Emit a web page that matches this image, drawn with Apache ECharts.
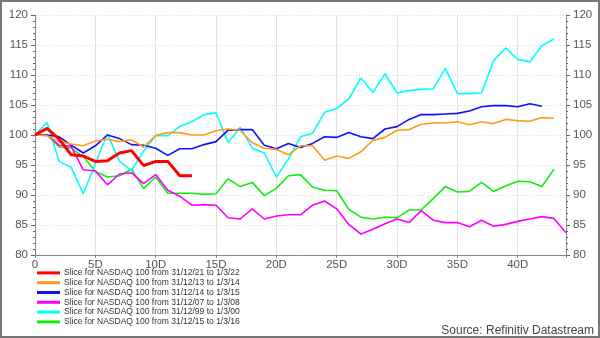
<!DOCTYPE html>
<html><head><meta charset="utf-8">
<script src="https://cdn.jsdelivr.net/npm/echarts@6/dist/echarts.min.js"></script>
<style>
html,body{margin:0;padding:0;background:#fff;}
#frame{width:600px;height:338px;box-sizing:border-box;border:2px solid #777;position:relative;background:#fff;}
#c{position:absolute;left:-2px;top:-2px;width:600px;height:338px;}
</style></head>
<body><div id="frame"><div id="c"></div></div>
<script>
const legendNames = [
  "Slice for NASDAQ 100 from 31/12/21 to 1/3/22",
  "Slice for NASDAQ 100 from 31/12/13 to 1/3/14",
  "Slice for NASDAQ 100 from 31/12/14 to 1/3/15",
  "Slice for NASDAQ 100 from 31/12/07 to 1/3/08",
  "Slice for NASDAQ 100 from 31/12/99 to 1/3/00",
  "Slice for NASDAQ 100 from 31/12/15 to 1/3/16"
];
const seriesColors = ["#ff0000","#ff9a1a","#1010ff","#ff00ff","#00ffff","#10ee10"];
const xTicks = [0,5,10,15,20,25,30,35,40];
const yTicks = [80,85,90,95,100,105,110,115,120];

const red2122 = [100,101.1,99.3,96.7,96.5,95.6,95.7,97.0,97.4,94.9,95.6,95.6,93.2,93.2];
const orange1314 = [100,99.9,98.9,98.5,98.2,99.0,99.3,98.9,99.2,98.0,99.9,100.4,100.4,100.0,100.0,100.7,101.0,100.8,98.7,97.8,97.6,96.7,98.2,98.2,95.8,96.5,96.1,97.2,99.1,99.6,100.8,100.9,101.8,102.0,102.0,102.2,101.7,102.2,101.9,102.6,102.4,102.3,102.9,102.8];
const blue1415 = [100,100,99.7,98.3,97.0,98.2,100.0,99.4,98.4,98.3,97.8,96.6,97.7,97.7,98.4,98.9,100.8,100.9,100.9,98.3,97.7,98.6,97.9,98.6,99.7,99.6,100.4,99.7,99.4,101.0,101.4,102.6,103.4,103.4,103.5,103.6,104.0,104.7,104.9,104.9,104.7,105.2,104.8];
const magenta0708 = [100,100,98.3,98.1,94.2,94.0,91.7,93.5,93.7,91.9,93.4,90.8,89.8,88.3,88.4,88.3,86.2,86.0,87.7,86.0,86.5,86.7,86.7,88.3,89.0,87.7,85.1,83.5,84.3,85.2,86.0,85.4,87.4,85.8,85.4,85.4,84.7,85.8,84.8,85.1,85.6,86.0,86.4,86.1,83.7];
const cyan9900 = [100,102.1,95.6,94.6,90.2,95.2,100.2,95.6,94.1,97.3,99.9,99.9,101.4,102.2,103.4,103.7,98.7,101.3,97.8,97.0,93.0,96.0,99.7,100.3,103.8,104.4,106.0,109.5,107.1,110.2,107.0,107.4,107.6,107.7,111.1,106.9,106.9,107.0,112.4,114.5,112.6,112.2,114.9,116.0];
const green1516 = [100,100,98.0,97.8,96.4,93.9,93.0,93.2,94.3,91.1,93.0,90.3,90.3,90.3,90.1,90.2,92.7,91.4,92.1,89.9,91.1,93.2,93.4,91.3,90.8,90.7,87.6,86.3,86.0,86.3,86.2,87.5,87.5,89.4,91.4,90.5,90.6,92.1,90.6,91.5,92.3,92.2,91.4,94.3];

const seriesData = [red2122, orange1314, blue1415, magenta0708, cyan9900, green1516];
const drawOrder = [5,4,3,2,1,0];

function pairs(arr){ return arr.map((v,i)=>[i,v]); }

const chart = echarts.init(document.getElementById('c'), null, {renderer:'canvas'});
const font = 'Liberation Sans, Arial, sans-serif';
const yAxisBase = {
  type:'value', min:80, max:120, interval:5,
  axisLine:{show:true, lineStyle:{color:'#888', width:1}},
  axisTick:{show:true, length:4, lineStyle:{color:'#666'}},
  minorTick:{show:true, splitNumber:5, length:2, lineStyle:{color:'#666'}},
  axisLabel:{color:'#555', fontSize:11.5, fontFamily:font, margin:7},
};
chart.setOption({
  animation:false,
  backgroundColor:'transparent',
  grid:{left:35, right:34, top:15, bottom:83, containLabel:false},
  xAxis:{
    type:'value', min:0, max:44, interval:5,
    axisLine:{show:true, onZero:false, lineStyle:{color:'#888'}},
    axisTick:{show:true, length:3, lineStyle:{color:'#888'}},
    axisLabel:{color:'#555', fontSize:11.5, fontFamily:font, margin:4,
      formatter:(v)=> xTicks.indexOf(v)<0 ? '' : (v===0?'0':v+'D')},
    splitLine:{show:true, lineStyle:{color:'#e2e2e2', width:1}},
    showMaxLabel:false
  },
  yAxis:[
    Object.assign({}, yAxisBase, {position:'left',
      splitLine:{show:true, lineStyle:{color:'#d8d8d8', type:[1,2], width:1}}}),
    Object.assign({}, yAxisBase, {position:'right', splitLine:{show:false}})
  ],
  legend:{
    orient:'vertical', left:37, top:268, padding:0,
    itemWidth:23, itemHeight:3, itemGap:0, icon:'rect',
    textStyle:{fontSize:8.5, lineHeight:9.8, color:'#333', fontFamily:font, padding:[0,0,0,-1]},
    data:legendNames, selectedMode:false
  },
  graphic:[{
    type:'text', right:6, top:325,
    style:{text:'Source: Refinitiv Datastream', font:'12px Liberation Sans, Arial, sans-serif', fill:'#444'}
  }],
  series: drawOrder.map(i=>({
    name:legendNames[i], type:'line', data:pairs(seriesData[i]),
    yAxisIndex:0, showSymbol:false, symbol:'none',
    lineStyle:{color:seriesColors[i], width: i===0?3:1.6},
    itemStyle:{color:seriesColors[i]},
    z: i===0?5:2
  }))
});
</script></body></html>
